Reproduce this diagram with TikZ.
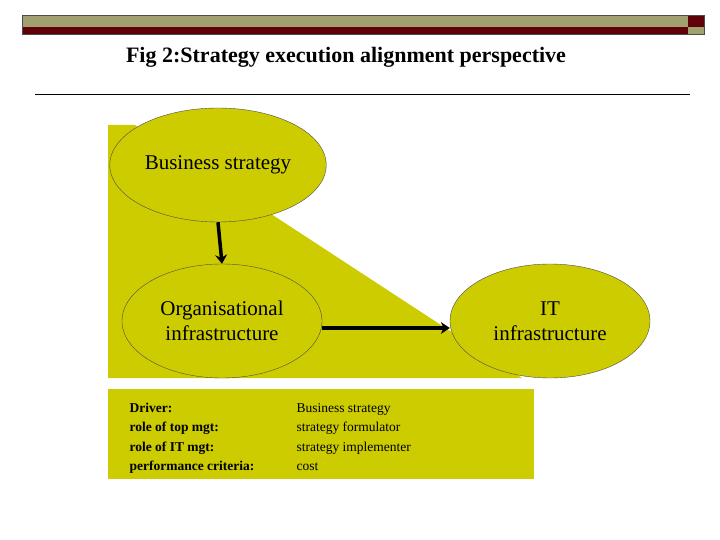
\documentclass[tikz,border=0pt]{standalone}
\usepackage{fontspec}
\setmainfont{Liberation Serif}
\usetikzlibrary{shapes.geometric,arrows.meta}
\begin{document}
\begin{tikzpicture}[x=1pt,y=-1pt,
  ell/.style={draw=black!70,thin,fill=yel,ellipse,minimum width=200pt,minimum height=114pt,align=center,font=\fontsize{21}{25}\selectfont},
  big/.style={line width=3.5pt,-{Stealth[length=9pt,width=12pt]}},
  lbl/.style={anchor=base west,font=\fontsize{13.5}{16}\selectfont}]
\definecolor{yel}{RGB}{204,204,0}
\definecolor{olv}{RGB}{160,160,112}
\definecolor{mar}{RGB}{96,0,8}
\useasboundingbox (0,0) rectangle (720,540);
\fill[olv] (22,15) rectangle (688,27);
\fill[mar] (22,27) rectangle (688,34);
\fill[mar] (688,15) rectangle (704,27);
\fill[olv] (688,27) rectangle (704,34);
\draw[black!70,thin] (22,15) rectangle (704,34);
\node[font=\bfseries\fontsize{22}{26}\selectfont] (title) at (346,57) {Fig 2:Strategy execution alignment perspective};
\draw[thin] (35,94) -- (690,94);
\fill[yel] (108,125) -- (135,125) -- (522,378) -- (108,378) -- cycle;
\node[ell] (bs) at (218,165) {Business strategy};
\node[ell] (oi) at (222,321) {Organisational\\infrastructure};
\node[ell] (it) at (550,321) {IT\\infrastructure};
\draw[big] (bs.south) -- (oi.north);
\draw[big] ([yshift=-7pt]oi.east) -- ([yshift=-7pt]it.west);
\fill[yel] (108,389) rectangle (534,479);
\foreach \y/\a/\b [count=\i] in {412/Driver:/Business strategy,431/role of top mgt:/strategy formulator,451/role of IT mgt:/strategy implementer,470/performance criteria:/cost/service\ \ center}{
  \node[lbl,font=\bfseries\fontsize{13.5}{16}\selectfont] (l\i) at (126,\y) {\a};
  \node[lbl] (r\i) at (293,\y) {\b};
}
\end{tikzpicture}
\end{document}
